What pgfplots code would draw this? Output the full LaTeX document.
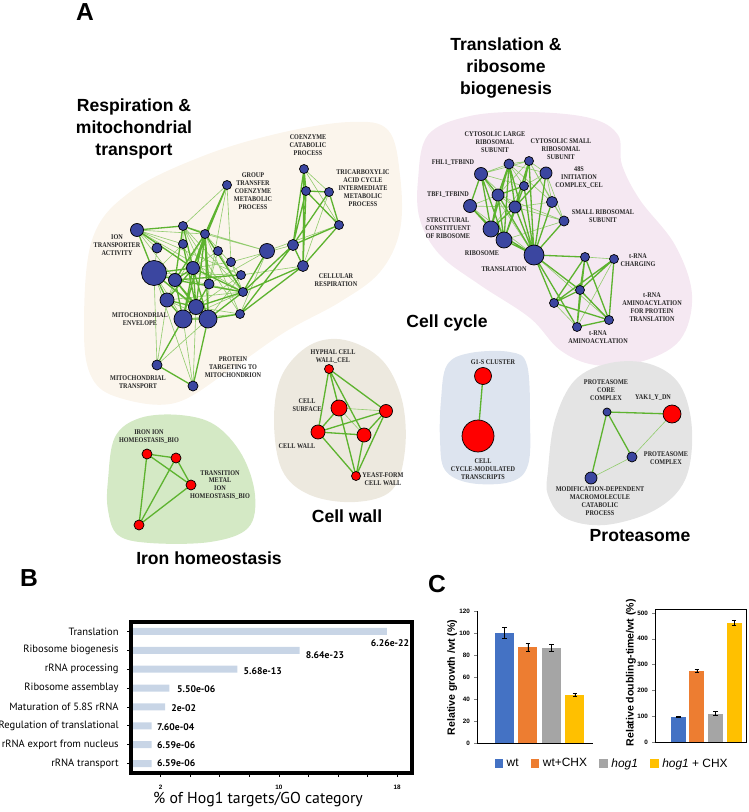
\documentclass[border=0pt]{standalone}
\usepackage{pgfplots}
\pgfplotsset{compat=1.18}
\usepackage{fontspec}
\setmainfont{Liberation Sans}
\newfontfamily\netfont[FakeStretch=0.86]{Liberation Serif}
\newfontfamily\ptsans{PT Sans}
\definecolor{nodeblue}{HTML}{3B46A0}
\definecolor{nodered}{HTML}{FF0000}
\definecolor{edgeg}{HTML}{5DB32F}
\definecolor{edgel}{HTML}{92CC6E}
\definecolor{bgresp}{HTML}{FBF5EC}
\definecolor{bgtrans}{HTML}{F5E8F2}
\definecolor{bgwall}{HTML}{EDE9DF}
\definecolor{bgiron}{HTML}{D4E9C5}
\definecolor{bgcycle}{HTML}{DDE4EF}
\definecolor{bgprot}{HTML}{E4E4E4}
\definecolor{barB}{HTML}{C8D5E6}
\definecolor{cblue}{HTML}{4472C4}
\definecolor{corange}{HTML}{ED7D31}
\definecolor{cgray}{HTML}{A5A5A5}
\definecolor{cyellow}{HTML}{FFC000}
\tikzset{
 netlbl/.style={font=\netfont\bfseries\fontsize{4.1}{4.5}\selectfont, align=center, inner sep=0pt, text=black!85},
 ttl/.style={font=\bfseries\fontsize{10}{12.5}\selectfont, align=center, inner sep=0pt},
 panel/.style={font=\bfseries\fontsize{14}{14}\selectfont, inner sep=0pt},
 vlbl/.style={anchor=west, inner sep=0pt, font=\ptsans\bfseries\fontsize{5.5}{7}\selectfont},
}
\begin{document}
\begin{tikzpicture}
\useasboundingbox (0,0) rectangle (14.98,16.24);
% ================= Panel A (network) =================
\begin{axis}[at={(0,0)}, anchor=south west, scale only axis, width=14.98cm, height=16.24cm,
  xmin=0, xmax=749, ymin=0, ymax=812, y dir=reverse, hide axis, clip=false]
% background regions
\addplot[fill=bgresp, draw=none, smooth cycle, tension=0.6] coordinates {
 (84,330) (92,240) (130,192) (203,156) (280,133) (350,122) (388,130) (400,175) (400,230) (380,272) (340,302) (285,332) (230,370) (175,403) (120,398) (92,378)};
\addplot[fill=bgtrans, draw=none, smooth cycle, tension=0.6] coordinates {
 (418,180) (428,135) (470,116) (530,112) (590,118) (618,135) (622,165) (640,200) (675,245) (692,295) (680,340) (640,362) (595,365) (560,350) (530,318) (480,285) (440,255) (420,220)};
\addplot[fill=bgwall, draw=none, smooth cycle, tension=0.6] coordinates {
 (274,420) (282,375) (310,345) (345,340) (382,360) (402,400) (405,450) (392,490) (355,502) (310,495) (282,470)};
\addplot[fill=bgiron, draw=none, smooth cycle, tension=0.6] coordinates {
 (108,480) (115,437) (140,418) (180,415) (215,425) (242,455) (255,495) (248,528) (210,542) (150,543) (118,535) (108,510)};
\addplot[fill=bgcycle, draw=none, smooth cycle, tension=0.6] coordinates {
 (441,400) (447,365) (470,353) (510,352) (527,365) (530,420) (528,465) (510,482) (470,483) (445,470) (440,440)};
\addplot[fill=bgprot, draw=none, smooth cycle, tension=0.6] coordinates {
 (548,470) (555,420) (575,380) (610,363) (650,364) (680,385) (692,430) (685,480) (655,510) (605,525) (565,518) (548,495)};
% thin edges
\addplot[edgel, line width=0.35pt, unbounded coords=jump] coordinates {
 (137,230) (205,234) (nan,nan) (137,230) (175,280) (nan,nan) (137,230) (243,292) (nan,nan)
 (137,230) (157,248) (nan,nan) (157,248) (154,273) (nan,nan) (183,226) (183,244) (nan,nan)
 (183,226) (209,284) (nan,nan) (183,226) (243,292) (nan,nan) (183,226) (240,314) (nan,nan)
 (183,244) (154,273) (nan,nan) (183,244) (193,268) (nan,nan) (205,234) (167,300) (nan,nan)
 (205,234) (240,314) (nan,nan) (205,234) (241,275) (nan,nan) (205,234) (267,251) (nan,nan)
 (218,251) (193,268) (nan,nan) (218,251) (209,284) (nan,nan) (231,262) (193,268) (nan,nan)
 (241,275) (154,273) (nan,nan) (243,292) (154,273) (nan,nan) (243,292) (167,300) (nan,nan)
 (243,292) (183,319) (nan,nan) (240,314) (196,307) (nan,nan) (240,314) (183,319) (nan,nan)
 (154,273) (183,319) (nan,nan) (154,273) (208,319) (nan,nan) (175,280) (167,300) (nan,nan)
 (209,284) (208,319) (nan,nan) (167,300) (208,319) (nan,nan) (267,251) (240,314) (nan,nan)
 (267,251) (183,226) (nan,nan) (267,251) (209,284) (nan,nan) (241,275) (196,307) (nan,nan)
 (241,275) (208,319) (nan,nan) (227,185) (183,226) (nan,nan) (227,185) (231,262) (nan,nan)
 (227,185) (209,284) (nan,nan) (304,169) (329,192) (nan,nan) (304,169) (339,225) (nan,nan)
 (329,192) (303,266) (nan,nan) (293,245) (231,262) (nan,nan) (303,266) (241,275) (nan,nan)
 (157,365) (154,273) (nan,nan) (157,365) (167,300) (nan,nan) (157,365) (208,319) (nan,nan)
 (193,386) (183,319) (nan,nan) (193,386) (196,307) (nan,nan) (193,386) (154,273) (nan,nan)
 (231,262) (243,292) (nan,nan) (218,251) (243,292) (nan,nan) (137,230) (183,244) (nan,nan)
 (137,230) (241,275) (nan,nan) (267,251) (339,225) (nan,nan) (183,226) (267,251) (nan,nan)
 (481,174) (509,164) (nan,nan) (481,174) (515,207) (nan,nan) (481,174) (524,186) (nan,nan)
 (481,174) (534,255) (nan,nan) (509,164) (529,161) (nan,nan) (509,164) (524,186) (nan,nan)
 (509,164) (552,202) (nan,nan) (509,164) (546,173) (nan,nan) (529,161) (546,173) (nan,nan)
 (529,161) (552,202) (nan,nan) (529,161) (564,221) (nan,nan) (529,161) (498,195) (nan,nan)
 (546,173) (524,186) (nan,nan) (546,173) (552,202) (nan,nan) (546,173) (564,221) (nan,nan)
 (524,186) (515,207) (nan,nan) (524,186) (491,229) (nan,nan) (498,195) (470,206) (nan,nan)
 (498,195) (515,207) (nan,nan) (470,206) (515,207) (nan,nan) (470,206) (534,255) (nan,nan)
 (515,207) (552,202) (nan,nan) (515,207) (564,221) (nan,nan) (552,202) (564,221) (nan,nan)
 (564,221) (504,240) (nan,nan) (564,221) (498,195) (nan,nan) (534,255) (609,320) (nan,nan)
 (585,257) (614,259) (nan,nan) (614,259) (577,327) (nan,nan) (554,303) (577,327) (nan,nan)
 (481,174) (529,161) (nan,nan)
 (329,369) (356,476) (nan,nan) (339,408) (386,411) (nan,nan) (339,408) (364,435) (nan,nan)
 (632,457) (591,478) (nan,nan) (632,457) (672,414)};
% thick edges
\addplot[edgeg, line width=0.75pt, unbounded coords=jump] coordinates {
 (183,226) (193,268) (nan,nan) (205,234) (193,268) (nan,nan) (205,234) (175,280) (nan,nan)
 (205,234) (196,307) (nan,nan) (205,234) (183,319) (nan,nan) (205,234) (208,319) (nan,nan)
 (205,234) (243,292) (nan,nan) (154,273) (193,268) (nan,nan) (154,273) (175,280) (nan,nan)
 (154,273) (167,300) (nan,nan) (154,273) (196,307) (nan,nan) (193,268) (175,280) (nan,nan)
 (193,268) (167,300) (nan,nan) (193,268) (196,307) (nan,nan) (193,268) (183,319) (nan,nan)
 (193,268) (208,319) (nan,nan) (175,280) (196,307) (nan,nan) (175,280) (183,319) (nan,nan)
 (175,280) (208,319) (nan,nan) (167,300) (196,307) (nan,nan) (167,300) (183,319) (nan,nan)
 (196,307) (183,319) (nan,nan) (196,307) (208,319) (nan,nan) (183,319) (208,319) (nan,nan)
 (243,292) (196,307) (nan,nan) (243,292) (208,319) (nan,nan) (243,292) (193,268) (nan,nan)
 (240,314) (208,319) (nan,nan) (209,284) (196,307) (nan,nan) (137,230) (154,273) (nan,nan)
 (137,230) (183,226) (nan,nan) (137,230) (193,268) (nan,nan) (183,226) (205,234) (nan,nan)
 (205,234) (209,284) (nan,nan) (243,292) (175,280) (nan,nan) (241,275) (175,280) (nan,nan)
 (183,226) (175,280) (nan,nan) (183,244) (196,307) (nan,nan)
 (304,169) (306,191) (nan,nan) (304,169) (293,245) (nan,nan) (304,169) (303,266) (nan,nan)
 (306,191) (329,192) (nan,nan) (306,191) (303,266) (nan,nan) (306,191) (293,245) (nan,nan)
 (329,192) (339,225) (nan,nan) (339,225) (293,245) (nan,nan) (339,225) (303,266) (nan,nan)
 (293,245) (303,266) (nan,nan) (306,191) (339,225) (nan,nan) (329,192) (293,245) (nan,nan)
 (293,245) (240,314) (nan,nan) (293,245) (243,292) (nan,nan) (303,266) (240,314) (nan,nan)
 (303,266) (243,292) (nan,nan) (267,251) (243,292) (nan,nan) (227,185) (205,234) (nan,nan)
 (227,185) (193,268) (nan,nan) (157,365) (183,319) (nan,nan) (157,365) (193,386) (nan,nan)
 (193,386) (208,319) (nan,nan)
 (481,174) (498,195) (nan,nan) (481,174) (491,229) (nan,nan) (481,174) (504,240) (nan,nan)
 (509,164) (498,195) (nan,nan) (509,164) (515,207) (nan,nan) (509,164) (491,229) (nan,nan)
 (509,164) (504,240) (nan,nan) (509,164) (534,255) (nan,nan) (529,161) (524,186) (nan,nan)
 (529,161) (515,207) (nan,nan) (529,161) (534,255) (nan,nan) (546,173) (534,255) (nan,nan)
 (546,173) (515,207) (nan,nan) (524,186) (498,195) (nan,nan) (524,186) (534,255) (nan,nan)
 (524,186) (504,240) (nan,nan) (498,195) (491,229) (nan,nan) (498,195) (504,240) (nan,nan)
 (498,195) (534,255) (nan,nan) (470,206) (491,229) (nan,nan) (470,206) (504,240) (nan,nan)
 (515,207) (491,229) (nan,nan) (515,207) (504,240) (nan,nan) (515,207) (534,255) (nan,nan)
 (552,202) (534,255) (nan,nan) (491,229) (504,240) (nan,nan) (491,229) (534,255) (nan,nan)
 (504,240) (534,255) (nan,nan) (564,221) (534,255) (nan,nan) (481,174) (470,206) (nan,nan)
 (534,255) (554,303) (nan,nan) (534,255) (577,327) (nan,nan) (534,255) (580,290) (nan,nan)
 (534,255) (585,257) (nan,nan)
 (585,257) (580,290) (nan,nan) (585,257) (554,303) (nan,nan) (614,259) (554,303) (nan,nan)
 (614,259) (580,290) (nan,nan) (580,290) (554,303) (nan,nan) (580,290) (577,327) (nan,nan)
 (580,290) (609,320) (nan,nan) (554,303) (609,320) (nan,nan) (577,327) (609,320) (nan,nan)
 (614,259) (609,320) (nan,nan) (585,257) (577,327) (nan,nan) (585,257) (609,320) (nan,nan)
 (329,369) (318,432) (nan,nan) (329,369) (339,408) (nan,nan) (329,369) (386,411) (nan,nan)
 (329,369) (364,435) (nan,nan) (339,408) (318,432) (nan,nan) (318,432) (364,435) (nan,nan)
 (318,432) (356,476) (nan,nan) (386,411) (364,435) (nan,nan) (386,411) (356,476) (nan,nan)
 (364,435) (356,476) (nan,nan) (339,408) (356,476) (nan,nan) (318,432) (386,411) (nan,nan)
 (147,454) (176,458) (nan,nan) (147,454) (191,485) (nan,nan) (147,454) (139,525) (nan,nan)
 (176,458) (191,485) (nan,nan) (176,458) (139,525) (nan,nan) (191,485) (139,525) (nan,nan)
 (483,376) (478,436) (nan,nan)
 (607,412) (672,414) (nan,nan) (607,412) (632,457) (nan,nan) (607,412) (591,478)};
% blue nodes
\addplot[scatter, only marks, mark=*, scatter/use mapped color={draw=none, fill=nodeblue},
  visualization depends on={0.569*\thisrow{r}\as\rad},
  scatter/@pre marker code/.append style={/tikz/mark size=\rad}]
 table[x=x, y=y, meta=r] {
x y r
304 169 4.5
306 191 4.5
329 192 4.5
339 225 4.5
293 245 5.5
303 266 5.5
227 185 4.5
267 251 7.5
137 230 6.5
157 248 5
183 226 4.5
183 244 4.5
205 234 4.5
218 251 4.5
231 262 4.5
241 275 4.5
243 292 4.5
240 314 4.5
154 273 12.5
193 268 6.5
175 280 6.5
209 284 5
167 300 7
196 307 7.5
183 319 9
208 319 9
157 365 5
193 386 5
481 174 6.5
509 164 5
529 161 4.5
546 173 6
524 186 4.5
498 195 6
470 206 6.5
515 207 6
552 202 5.5
564 221 5
491 229 8
504 240 8
534 255 10
585 257 4.5
614 259 4.5
580 290 4.5
554 303 4.5
577 327 4.5
609 320 4.5
607 412 4
632 457 5
591 478 6
};
% red nodes
\addplot[scatter, only marks, mark=*, scatter/use mapped color={draw=none, fill=nodered},
  visualization depends on={0.569*\thisrow{r}\as\rad},
  scatter/@pre marker code/.append style={/tikz/mark size=\rad}]
 table[x=x, y=y, meta=r] {
x y r
329 369 4.5
339 408 8
386 411 6.5
318 432 7
364 435 7
356 476 4.5
147 454 5
176 458 5
191 485 5
139 525 5
483 376 8.5
478 436 16
672 414 9
};
% node labels
\node[netlbl] at (axis cs:308,145) {COENZYME\\CATABOLIC\\PROCESS};
\node[netlbl] at (axis cs:253,191) {GROUP\\TRANSFER\\COENZYME\\METABOLIC\\PROCESS};
\node[netlbl] at (axis cs:363,188) {TRICARBOXYLIC\\ACID CYCLE\\INTERMEDIATE\\METABOLIC\\PROCESS};
\node[netlbl] at (axis cs:117,245) {ION\\TRANSPORTER\\ACTIVITY};
\node[netlbl] at (axis cs:336,280) {CELLULAR\\RESPIRATION};
\node[netlbl] at (axis cs:140,319) {MITOCHONDRIAL\\ENVELOPE};
\node[netlbl] at (axis cs:233,367) {PROTEIN\\TARGETING TO\\MITOCHONDRION};
\node[netlbl] at (axis cs:138,382) {MITOCHONDRIAL\\TRANSPORT};
\node[netlbl] at (axis cs:495,142) {CYTOSOLIC LARGE\\RIBOSOMAL\\SUBUNIT};
\node[netlbl] at (axis cs:561,149) {CYTOSOLIC SMALL\\RIBOSOMAL\\SUBUNIT};
\node[netlbl] at (axis cs:453,163) {FHL1\_TFBIND};
\node[netlbl] at (axis cs:579,178) {48S\\INITIATION\\COMPLEX\_CEL};
\node[netlbl] at (axis cs:448,195) {TBF1\_TFBIND};
\node[netlbl] at (axis cs:603,216) {SMALL RIBOSOMAL\\SUBUNIT};
\node[netlbl] at (axis cs:448,228) {STRUCTURAL\\CONSTITUENT\\OF RIBOSOME};
\node[netlbl] at (axis cs:482,253) {RIBOSOME};
\node[netlbl] at (axis cs:504,269) {TRANSLATION};
\node[netlbl] at (axis cs:638,260) {t-RNA\\CHARGING};
\node[netlbl] at (axis cs:652,307) {t-RNA\\AMINOACYLATION\\FOR PROTEIN\\TRANSLATION};
\node[netlbl] at (axis cs:598,337) {t-RNA\\AMINOACYLATION};
\node[netlbl] at (axis cs:333,357) {HYPHAL CELL\\WALL\_CEL};
\node[netlbl] at (axis cs:307,405) {CELL\\SURFACE};
\node[netlbl] at (axis cs:297,446) {CELL WALL};
\node[netlbl] at (axis cs:383,479) {YEAST-FORM\\CELL WALL};
\node[netlbl] at (axis cs:149,437) {IRON ION\\HOMEOSTASIS\_BIO};
\node[netlbl] at (axis cs:220,485) {TRANSITION\\METAL\\ION\\HOMEOSTASIS\_BIO};
\node[netlbl] at (axis cs:493,362) {G1-S CLUSTER};
\node[netlbl] at (axis cs:483,469) {CELL\\CYCLE-MODULATED\\TRANSCRIPTS};
\node[netlbl] at (axis cs:606,390) {PROTEASOME\\CORE\\COMPLEX};
\node[netlbl] at (axis cs:653,398) {YAK1\_Y\_DN};
\node[netlbl] at (axis cs:666,458) {PROTEASOME\\COMPLEX};
\node[netlbl] at (axis cs:600,501) {MODIFICATION-DEPENDENT\\MACROMOLECULE\\CATABOLIC\\PROCESS};
% cluster titles
\node[ttl] at (axis cs:134,129) {Respiration \&\\mitochondrial\\transport};
\node[ttl] at (axis cs:506,68) {Translation \&\\ribosome\\biogenesis};
\node[ttl] at (axis cs:447,323) {Cell cycle};
\node[ttl] at (axis cs:347,516) {Cell wall};
\node[ttl] at (axis cs:209,558) {Iron homeostasis};
\node[ttl] at (axis cs:640,536) {Proteasome};
% panel letters
\node[panel] at (axis cs:85,12) {A};
\node[panel] at (axis cs:29,578) {B};
\node[panel] at (axis cs:437,584) {C};
\end{axis}
% ================= Panel B =================
\begin{axis}[at={(2.62cm,0.78cm)}, anchor=south west, scale only axis, width=5.62cm, height=3.02cm,
  xmin=0, xmax=19, ymin=0.5, ymax=8.5, y dir=reverse,
  xbar, bar width=0.14cm,
  xtick={2,10,18}, minor xtick={4,6,8,12,14,16},
  xtick pos=bottom, tick align=outside,
  major tick length=2pt, minor tick length=2pt,
  tick style={line width=0.4pt, black},
  ytick={1,...,8},
  yticklabels={Translation, Ribosome biogenesis, rRNA processing, Ribosome assemblay, Maturation of 5.8S rRNA\ , Regulation of translational, rRNA export from nucleus, rRNA transport},
  ytick pos=left,
  /pgf/number format/assume math mode=true,
  yticklabel style={font=\ptsans\fontsize{6}{7}\selectfont, xshift=-1.5pt},
  xticklabel style={font=\bfseries\fontsize{3.6}{4}\selectfont, yshift=-1.5pt},
  xlabel={\% of Hog1 targets/GO category},
  xlabel style={font=\ptsans\fontsize{9}{10}\selectfont, at={(axis description cs:0.452,0)}, anchor=center, yshift=-0.54cm},
  axis line style={draw=black, line width=1.6pt},
  clip=false]
\addplot[fill=barB, draw=none] coordinates {(17.3,1) (11.4,2) (7.2,3) (2.6,4) (2.3,5) (1.4,6) (1.4,7) (1.4,8)};
\draw[draw=black, line width=1.9pt] (rel axis cs:0,0) -- (rel axis cs:1,0) -- (rel axis cs:1,1) -- (rel axis cs:0,1) -- cycle;
\node[vlbl] at (axis cs:16.2,1.63) {6.26e-22};
\node[vlbl] at (axis cs:11.8,2.25) {8.64e-23};
\node[vlbl] at (axis cs:7.6,3.1) {5.68e-13};
\node[vlbl] at (axis cs:3.1,4.05) {5.50e-06};
\node[vlbl] at (axis cs:2.7,5.05) {2e-02};
\node[vlbl] at (axis cs:1.75,6.05) {7.60e-04};
\node[vlbl] at (axis cs:1.75,7.0) {6.59e-06};
\node[vlbl] at (axis cs:1.75,8.0) {6.59e-06};
\end{axis}
% ================= Panel C left =================
\begin{axis}[at={(9.54cm,1.38cm)}, anchor=south west, scale only axis, width=2.32cm, height=2.64cm,
  xmin=-0.17, xmax=4.77, ymin=0, ymax=120, ytick={0,20,...,120},
  axis x line*=bottom, axis y line*=left, xtick=\empty,
  ybar, bar width=0.38cm, bar shift=0pt,
  tick align=outside, major tick length=1.5pt,
  /pgf/number format/assume math mode=true,
  yticklabel style={font=\bfseries\fontsize{3.6}{4}\selectfont, xshift=1pt},
  ylabel={Relative growth /wt (\%)},
  ylabel style={font=\bfseries\fontsize{6}{7}\selectfont, at={(axis description cs:-0.215,0.496)}, anchor=center},
  error bars/y dir=both, error bars/y explicit,
  error bars/error bar style={black, line width=0.4pt},
  error bars/error mark options={rotate=90, mark size=1.3pt, black, line width=0.4pt},
  legend columns=4,
  legend style={at={(rel axis cs:1.172,-0.159)}, anchor=center, draw=none, fill=none,
    font=\fontsize{6.8}{7.5}\selectfont, /tikz/every even column/.append style={column sep=5pt}},
  legend image code/.code={\fill[#1] (0cm,-0.09cm) rectangle (0.17cm,0.09cm);},
  clip=false]
\addplot[fill=cblue, draw=none, bar shift=0pt] coordinates {(1,100) +- (0,5)};
\addlegendentry{wt}
\addplot[fill=corange, draw=none, bar shift=0pt] coordinates {(2,87) +- (0,3.5)};
\addlegendentry{wt+CHX}
\addplot[fill=cgray, draw=none, bar shift=0pt] coordinates {(3,86.5) +- (0,3)};
\addlegendentry{\textit{hog1}}
\addplot[fill=cyellow, draw=none, bar shift=0pt] coordinates {(4,43.5) +- (0,1.5)};
\addlegendentry{\textit{hog1} + CHX}
\end{axis}
% ================= Panel C right =================
\begin{axis}[at={(13.1cm,1.4cm)}, anchor=south west, scale only axis, width=1.82cm, height=2.66cm,
  xmin=-0.25, xmax=4.64, ymin=0, ymax=515, ytick={0,100,...,500},
  xtick=\empty, ytick pos=left,
  ybar, bar width=0.3cm, bar shift=0pt,
  tick align=outside, major tick length=1.5pt,
  axis line style={draw=black},
  /pgf/number format/assume math mode=true,
  yticklabel style={font=\bfseries\fontsize{3.6}{4}\selectfont, xshift=1pt},
  ylabel={Relative doubling-time/wt (\%)},
  ylabel style={font=\bfseries\fontsize{6}{7}\selectfont, at={(axis description cs:-0.265,0.52)}, anchor=center},
  error bars/y dir=both, error bars/y explicit,
  error bars/error bar style={black, line width=0.4pt},
  error bars/error mark options={rotate=90, mark size=1.3pt, black, line width=0.4pt},
  clip=false]
\addplot[fill=cblue, draw=none, bar shift=0pt] coordinates {(1,98) +- (0,3)};
\addplot[fill=corange, draw=none, bar shift=0pt] coordinates {(2,276) +- (0,5)};
\addplot[fill=cgray, draw=none, bar shift=0pt] coordinates {(3,110) +- (0,8)};
\addplot[fill=cyellow, draw=none, bar shift=0pt] coordinates {(4,462) +- (0,10)};
\end{axis}
\end{tikzpicture}
\end{document}
